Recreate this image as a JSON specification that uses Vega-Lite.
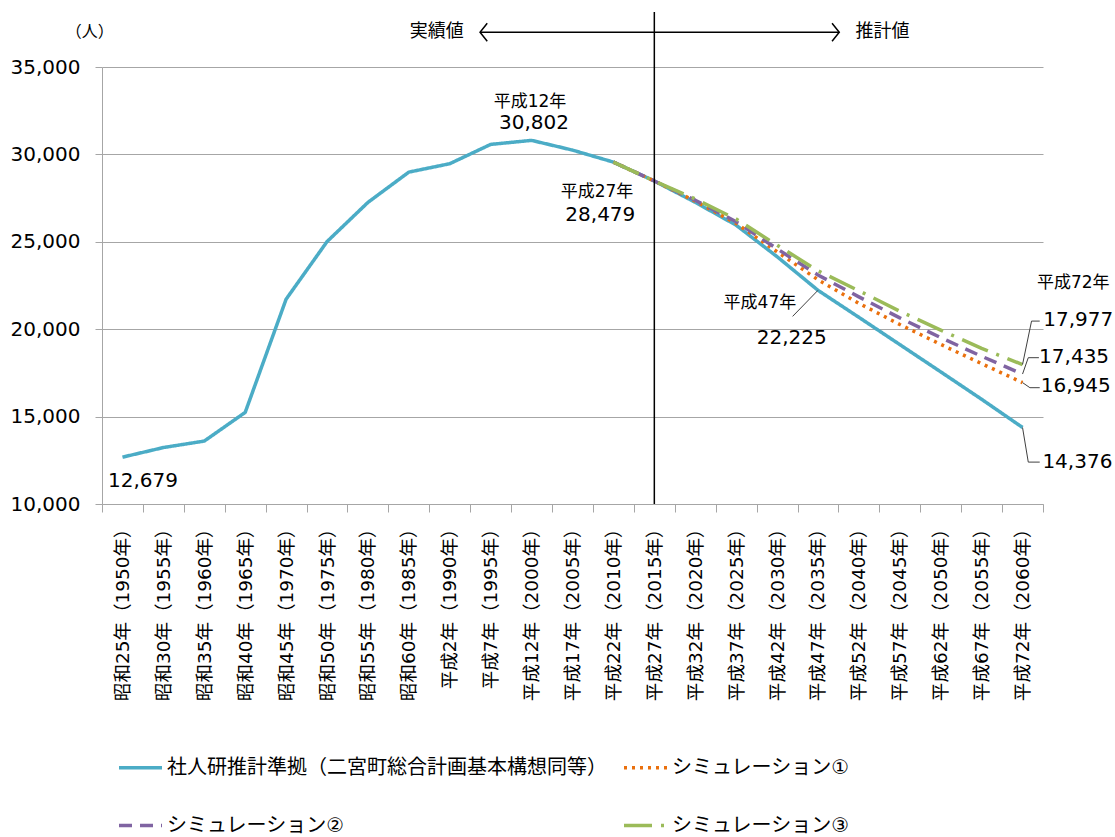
{
  "$schema": "https://vega.github.io/schema/vega-lite/v6.json",
  "autosize": {"type": "none"},
  "padding": {"left": 102, "top": 67, "right": 72, "bottom": 333},
  "width": 941,
  "height": 437,
  "config": {
    "font": "DejaVu Sans, Noto Sans CJK JP",
    "view": {"stroke": null},
    "text": {"color": "#000000"}
  },
  "resolve": {"axis": {"x": "independent", "y": "independent"}},
  "layer": [
    {
      "data": {
        "values": [
          {"series": "社人研推計準拠（二宮町総合計画基本構想同等）", "year": 1950, "value": 12679},
          {"series": "社人研推計準拠（二宮町総合計画基本構想同等）", "year": 1955, "value": 13230},
          {"series": "社人研推計準拠（二宮町総合計画基本構想同等）", "year": 1960, "value": 13600},
          {"series": "社人研推計準拠（二宮町総合計画基本構想同等）", "year": 1965, "value": 15240},
          {"series": "社人研推計準拠（二宮町総合計画基本構想同等）", "year": 1970, "value": 21716},
          {"series": "社人研推計準拠（二宮町総合計画基本構想同等）", "year": 1975, "value": 25010},
          {"series": "社人研推計準拠（二宮町総合計画基本構想同等）", "year": 1980, "value": 27254},
          {"series": "社人研推計準拠（二宮町総合計画基本構想同等）", "year": 1985, "value": 28987},
          {"series": "社人研推計準拠（二宮町総合計画基本構想同等）", "year": 1990, "value": 29468},
          {"series": "社人研推計準拠（二宮町総合計画基本構想同等）", "year": 1995, "value": 30572},
          {"series": "社人研推計準拠（二宮町総合計画基本構想同等）", "year": 2000, "value": 30802},
          {"series": "社人研推計準拠（二宮町総合計画基本構想同等）", "year": 2005, "value": 30246},
          {"series": "社人研推計準拠（二宮町総合計画基本構想同等）", "year": 2010, "value": 29560},
          {"series": "社人研推計準拠（二宮町総合計画基本構想同等）", "year": 2015, "value": 28479},
          {"series": "社人研推計準拠（二宮町総合計画基本構想同等）", "year": 2020, "value": 27260},
          {"series": "社人研推計準拠（二宮町総合計画基本構想同等）", "year": 2025, "value": 25950},
          {"series": "社人研推計準拠（二宮町総合計画基本構想同等）", "year": 2030, "value": 24150},
          {"series": "社人研推計準拠（二宮町総合計画基本構想同等）", "year": 2035, "value": 22225},
          {"series": "社人研推計準拠（二宮町総合計画基本構想同等）", "year": 2040, "value": 20680},
          {"series": "社人研推計準拠（二宮町総合計画基本構想同等）", "year": 2045, "value": 19120},
          {"series": "社人研推計準拠（二宮町総合計画基本構想同等）", "year": 2050, "value": 17560},
          {"series": "社人研推計準拠（二宮町総合計画基本構想同等）", "year": 2055, "value": 15990},
          {"series": "社人研推計準拠（二宮町総合計画基本構想同等）", "year": 2060, "value": 14376},
          {"series": "シミュレーション①", "year": 2010, "value": 29560},
          {"series": "シミュレーション①", "year": 2015, "value": 28479},
          {"series": "シミュレーション①", "year": 2020, "value": 27330},
          {"series": "シミュレーション①", "year": 2025, "value": 26050},
          {"series": "シミュレーション①", "year": 2030, "value": 24430},
          {"series": "シミュレーション①", "year": 2035, "value": 22830},
          {"series": "シミュレーション①", "year": 2040, "value": 21480},
          {"series": "シミュレーション①", "year": 2045, "value": 20270},
          {"series": "シミュレーション①", "year": 2050, "value": 19130},
          {"series": "シミュレーション①", "year": 2055, "value": 18030},
          {"series": "シミュレーション①", "year": 2060, "value": 16945},
          {"series": "シミュレーション②", "year": 2010, "value": 29560},
          {"series": "シミュレーション②", "year": 2015, "value": 28479},
          {"series": "シミュレーション②", "year": 2020, "value": 27380},
          {"series": "シミュレーション②", "year": 2025, "value": 26150},
          {"series": "シミュレーション②", "year": 2030, "value": 24600},
          {"series": "シミュレーション②", "year": 2035, "value": 23100},
          {"series": "シミュレーション②", "year": 2040, "value": 21850},
          {"series": "シミュレーション②", "year": 2045, "value": 20650},
          {"series": "シミュレーション②", "year": 2050, "value": 19520},
          {"series": "シミュレーション②", "year": 2055, "value": 18450},
          {"series": "シミュレーション②", "year": 2060, "value": 17435},
          {"series": "シミュレーション③", "year": 2010, "value": 29560},
          {"series": "シミュレーション③", "year": 2015, "value": 28479},
          {"series": "シミュレーション③", "year": 2020, "value": 27450},
          {"series": "シミュレーション③", "year": 2025, "value": 26300},
          {"series": "シミュレーション③", "year": 2030, "value": 24810},
          {"series": "シミュレーション③", "year": 2035, "value": 23340},
          {"series": "シミュレーション③", "year": 2040, "value": 22200},
          {"series": "シミュレーション③", "year": 2045, "value": 21030},
          {"series": "シミュレーション③", "year": 2050, "value": 19950},
          {"series": "シミュレーション③", "year": 2055, "value": 18900},
          {"series": "シミュレーション③", "year": 2060, "value": 17977}
        ]
      },
      "mark": {"type": "line", "strokeJoin": "round"},
      "encoding": {
        "x": {
          "field": "year", "type": "quantitative",
          "scale": {"domain": [1947.5, 2062.5], "nice": false, "zero": false},
          "axis": {
            "orient": "bottom", "title": null, "labels": false, "grid": false,
            "values": [1947.5, 1952.5, 1957.5, 1962.5, 1967.5, 1972.5, 1977.5, 1982.5, 1987.5, 1992.5, 1997.5, 2002.5, 2007.5, 2012.5, 2017.5, 2022.5, 2027.5, 2032.5, 2037.5, 2042.5, 2047.5, 2052.5, 2057.5, 2062.5],
            "domainColor": "#a6a6a6", "tickColor": "#a6a6a6", "tickSize": 8
          }
        },
        "y": {
          "field": "value", "type": "quantitative",
          "scale": {"domain": [10000, 35000], "nice": false, "zero": false},
          "axis": {
            "orient": "left", "title": null, "values": [10000, 15000, 20000, 25000, 30000, 35000],
            "format": ",d", "labelFontSize": 20, "labelColor": "#000000",
            "labelPadding": 15, "tickSize": 7, "tickColor": "#a6a6a6",
            "domainColor": "#a6a6a6", "grid": true, "gridColor": "#a6a6a6"
          }
        },
        "color": {
          "field": "series", "type": "nominal",
          "scale": {
            "domain": ["社人研推計準拠（二宮町総合計画基本構想同等）", "シミュレーション①", "シミュレーション②", "シミュレーション③"],
            "range": ["#4bacc6", "#ea700d", "#8064a2", "#9bbb59"]
          },
          "legend": {
            "orient": "none", "legendX": 15, "legendY": 677, "columns": 2, "direction": "horizontal", "title": null,
            "symbolType": "stroke", "symbolSize": 1849, "symbolStrokeWidth": 4,
            "labelFontSize": 20, "labelLimit": 700, "labelColor": "#000000",
            "labelOffset": 3, "columnPadding": 10, "rowPadding": 24
          }
        },
        "strokeDash": {
          "field": "series", "type": "nominal",
          "scale": {
            "domain": ["社人研推計準拠（二宮町総合計画基本構想同等）", "シミュレーション①", "シミュレーション②", "シミュレーション③"],
            "range": [[1, 0], [3, 5], [13, 8], [28, 9, 3, 9]]
          }
        },
        "strokeWidth": {
          "field": "series", "type": "nominal",
          "scale": {
            "domain": ["社人研推計準拠（二宮町総合計画基本構想同等）", "シミュレーション①", "シミュレーション②", "シミュレーション③"],
            "range": [3.5, 3.5, 4.5, 4.5]
          },
          "legend": null
        }
      }
    },
    {
      "data": {"values": [{"year": 2015, "value": 10000, "value2": 38150}]},
      "mark": {"type": "rule", "color": "#000000", "strokeWidth": 1.5},
      "encoding": {
        "x": {
          "field": "year", "type": "quantitative",
          "axis": {
            "orient": "bottom", "title": null, "grid": false, "domain": false,
            "values": [1950, 1955, 1960, 1965, 1970, 1975, 1980, 1985, 1990, 1995, 2000, 2005, 2010, 2015, 2020, 2025, 2030, 2035, 2040, 2045, 2050, 2055, 2060],
            "labelExpr": "(datum.value < 1989 ? '昭和' + (datum.value - 1925) : '平成' + (datum.value - 1988)) + '年（' + datum.value + '年）'",
            "labelAngle": -90, "labelFontSize": 18.5, "labelColor": "#000000", "labelLimit": 400,
            "tickSize": 8, "tickOpacity": 0, "labelPadding": 7, "labelOverlap": false
          }
        },
        "y": {"field": "value", "type": "quantitative", "axis": null},
        "y2": {"field": "value2"}
      }
    },
    {
      "data": {"values": [{"year": 1993.7, "year2": 2037.6, "value": 36985}]},
      "mark": {"type": "rule", "color": "#000000", "strokeWidth": 1.5},
      "encoding": {
        "x": {"field": "year", "type": "quantitative", "axis": null},
        "x2": {"field": "year2"},
        "y": {"field": "value", "type": "quantitative", "axis": null}
      }
    },
    {
      "data": {"values": [{"year": 1993.7, "value": 36985, "dir": "L"}, {"year": 2037.6, "value": 36985, "dir": "R"}]},
      "mark": {"type": "point", "filled": false, "stroke": "#000000", "strokeWidth": 1.5, "size": 324, "opacity": 1},
      "encoding": {
        "x": {"field": "year", "type": "quantitative", "axis": null},
        "y": {"field": "value", "type": "quantitative", "axis": null},
        "shape": {
          "field": "dir", "type": "nominal",
          "scale": {"domain": ["L", "R"], "range": ["M 0.8 -1 L 0 0 L 0.8 1", "M -0.8 -1 L 0 0 L -0.8 1"]},
          "legend": null
        }
      }
    },
    {
      "data": {
        "values": [
          {"leader": "a", "year": 2031.9, "value": 20733},
          {"leader": "a", "year": 2035, "value": 22225},
          {"leader": "b", "year": 2060, "value": 17977},
          {"leader": "b", "year": 2061.1, "value": 20464},
          {"leader": "b", "year": 2062.1, "value": 20464},
          {"leader": "c", "year": 2060, "value": 17435},
          {"leader": "c", "year": 2060.7, "value": 18370},
          {"leader": "c", "year": 2062.0, "value": 18370},
          {"leader": "d", "year": 2060, "value": 16945},
          {"leader": "d", "year": 2060.9, "value": 16654},
          {"leader": "d", "year": 2062.1, "value": 16654},
          {"leader": "e", "year": 2060, "value": 14376},
          {"leader": "e", "year": 2060.7, "value": 12397},
          {"leader": "e", "year": 2062.1, "value": 12397}
        ]
      },
      "mark": {"type": "line", "color": "#404040", "strokeWidth": 1},
      "encoding": {
        "x": {"field": "year", "type": "quantitative", "axis": null},
        "y": {"field": "value", "type": "quantitative", "axis": null},
        "detail": {"field": "leader", "type": "nominal"}
      }
    },
    {
      "data": {
        "values": [
          {"label": "平成12年", "year": 1999.8, "value": 32975},
          {"label": "平成27年", "year": 2008.0, "value": 27826},
          {"label": "平成47年", "year": 2027.9, "value": 21471},
          {"label": "平成72年", "year": 2066.2, "value": 22649}
        ]
      },
      "mark": {"type": "text", "fontSize": 17, "align": "center", "baseline": "middle"},
      "encoding": {
        "x": {"field": "year", "type": "quantitative", "axis": null},
        "y": {"field": "value", "type": "quantitative", "axis": null},
        "text": {"field": "label"}
      }
    },
    {
      "data": {
        "values": [
          {"label": "30,802", "year": 2000.3, "value": 31774},
          {"label": "28,479", "year": 2008.4, "value": 26510},
          {"label": "22,225", "year": 2031.8, "value": 19470},
          {"label": "17,977", "year": 2066.8, "value": 20532},
          {"label": "17,435", "year": 2066.3, "value": 18415},
          {"label": "16,945", "year": 2066.5, "value": 16728},
          {"label": "14,376", "year": 2066.7, "value": 12380},
          {"label": "12,679", "year": 1952.5, "value": 11316}
        ]
      },
      "mark": {"type": "text", "fontSize": 20, "align": "center", "baseline": "middle"},
      "encoding": {
        "x": {"field": "year", "type": "quantitative", "axis": null},
        "y": {"field": "value", "type": "quantitative", "axis": null},
        "text": {"field": "label"}
      }
    },
    {
      "data": {
        "values": [
          {"label": "実績値", "year": 1988.4, "value": 36985},
          {"label": "推計値", "year": 2042.9, "value": 36985}
        ]
      },
      "mark": {"type": "text", "fontSize": 18, "align": "center", "baseline": "middle"},
      "encoding": {
        "x": {"field": "year", "type": "quantitative", "axis": null},
        "y": {"field": "value", "type": "quantitative", "axis": null},
        "text": {"field": "label"}
      }
    },
    {
      "data": {"values": [{"label": "（人）", "year": 1946.0, "value": 36985}]},
      "mark": {"type": "text", "fontSize": 16, "align": "center", "baseline": "middle"},
      "encoding": {
        "x": {"field": "year", "type": "quantitative", "axis": null},
        "y": {"field": "value", "type": "quantitative", "axis": null},
        "text": {"field": "label"}
      }
    }
  ]
}
